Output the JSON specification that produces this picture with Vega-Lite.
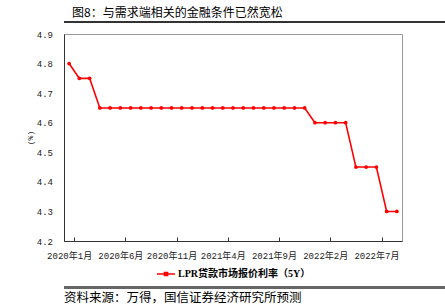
{
  "$schema": "https://vega.github.io/schema/vega-lite/v6.json",
  "padding": {"left": 25, "right": 15, "top": 7, "bottom": 0},
  "background": "white",
  "spacing": 6,
  "resolve": {"legend": {"color": "independent"}},
  "config": {
    "font": "Noto Sans CJK SC",
    "view": {"stroke": null},
    "title": {"font": "Noto Sans CJK SC", "fontSize": 12, "fontWeight": "normal", "color": "#000", "anchor": "start"},
    "legend": {"layout": {"bottom": {"anchor": "middle"}}}
  },
  "vconcat": [
    {
      "width": 405,
      "height": 2,
      "view": {"fill": "#333", "stroke": null},
      "title": {"text": "图8：与需求端相关的金融条件已然宽松", "offset": 1, "dx": 8},
      "data": {"values": [{}]},
      "mark": {"type": "point", "opacity": 0, "size": 0},
      "encoding": {}
    },
    {
      "width": 338,
      "height": 207,
      "view": {"stroke": "#999", "strokeWidth": 1},
      "data": {"values": [
        {"month": "2020年1月", "rate": 4.80, "series": "LPR贷款市场报价利率（5Y）"},
        {"month": "2020年2月", "rate": 4.75, "series": "LPR贷款市场报价利率（5Y）"},
        {"month": "2020年3月", "rate": 4.75, "series": "LPR贷款市场报价利率（5Y）"},
        {"month": "2020年4月", "rate": 4.65, "series": "LPR贷款市场报价利率（5Y）"},
        {"month": "2020年5月", "rate": 4.65, "series": "LPR贷款市场报价利率（5Y）"},
        {"month": "2020年6月", "rate": 4.65, "series": "LPR贷款市场报价利率（5Y）"},
        {"month": "2020年7月", "rate": 4.65, "series": "LPR贷款市场报价利率（5Y）"},
        {"month": "2020年8月", "rate": 4.65, "series": "LPR贷款市场报价利率（5Y）"},
        {"month": "2020年9月", "rate": 4.65, "series": "LPR贷款市场报价利率（5Y）"},
        {"month": "2020年10月", "rate": 4.65, "series": "LPR贷款市场报价利率（5Y）"},
        {"month": "2020年11月", "rate": 4.65, "series": "LPR贷款市场报价利率（5Y）"},
        {"month": "2020年12月", "rate": 4.65, "series": "LPR贷款市场报价利率（5Y）"},
        {"month": "2021年1月", "rate": 4.65, "series": "LPR贷款市场报价利率（5Y）"},
        {"month": "2021年2月", "rate": 4.65, "series": "LPR贷款市场报价利率（5Y）"},
        {"month": "2021年3月", "rate": 4.65, "series": "LPR贷款市场报价利率（5Y）"},
        {"month": "2021年4月", "rate": 4.65, "series": "LPR贷款市场报价利率（5Y）"},
        {"month": "2021年5月", "rate": 4.65, "series": "LPR贷款市场报价利率（5Y）"},
        {"month": "2021年6月", "rate": 4.65, "series": "LPR贷款市场报价利率（5Y）"},
        {"month": "2021年7月", "rate": 4.65, "series": "LPR贷款市场报价利率（5Y）"},
        {"month": "2021年8月", "rate": 4.65, "series": "LPR贷款市场报价利率（5Y）"},
        {"month": "2021年9月", "rate": 4.65, "series": "LPR贷款市场报价利率（5Y）"},
        {"month": "2021年10月", "rate": 4.65, "series": "LPR贷款市场报价利率（5Y）"},
        {"month": "2021年11月", "rate": 4.65, "series": "LPR贷款市场报价利率（5Y）"},
        {"month": "2021年12月", "rate": 4.65, "series": "LPR贷款市场报价利率（5Y）"},
        {"month": "2022年1月", "rate": 4.60, "series": "LPR贷款市场报价利率（5Y）"},
        {"month": "2022年2月", "rate": 4.60, "series": "LPR贷款市场报价利率（5Y）"},
        {"month": "2022年3月", "rate": 4.60, "series": "LPR贷款市场报价利率（5Y）"},
        {"month": "2022年4月", "rate": 4.60, "series": "LPR贷款市场报价利率（5Y）"},
        {"month": "2022年5月", "rate": 4.45, "series": "LPR贷款市场报价利率（5Y）"},
        {"month": "2022年6月", "rate": 4.45, "series": "LPR贷款市场报价利率（5Y）"},
        {"month": "2022年7月", "rate": 4.45, "series": "LPR贷款市场报价利率（5Y）"},
        {"month": "2022年8月", "rate": 4.30, "series": "LPR贷款市场报价利率（5Y）"},
        {"month": "2022年9月", "rate": 4.30, "series": "LPR贷款市场报价利率（5Y）"}
      ]},
      "encoding": {
        "x": {
          "field": "month", "type": "ordinal", "sort": null, "bandPosition": 0.5,
          "scale": {"type": "band", "paddingInner": 0, "paddingOuter": 0},
          "axis": {
            "title": null,
            "values": ["2020年1月", "2020年6月", "2020年11月", "2021年4月", "2021年9月", "2022年2月", "2022年7月"],
            "labelAngle": 0, "tickBand": "extent", "tickSize": -4, "labelPadding": 14,
            "domainColor": "#333", "tickColor": "#333",
            "labelFont": "Liberation Mono, Noto Sans CJK SC", "labelFontSize": 9, "labelColor": "#222"
          }
        },
        "y": {
          "field": "rate", "type": "quantitative",
          "scale": {"domain": [4.2, 4.9], "nice": false, "zero": false},
          "axis": {
            "title": "(%)", "titleFontSize": 8, "titleFontWeight": "normal", "titleFont": "Liberation Mono", "titleColor": "#222", "titlePadding": 2,
            "values": [4.2, 4.3, 4.4, 4.5, 4.6, 4.7, 4.8, 4.9], "format": ".1f",
            "ticks": false, "grid": false, "labelPadding": 11.5,
            "domainColor": "#333",
            "labelFont": "Liberation Mono", "labelFontSize": 9, "labelColor": "#222"
          }
        },
        "color": {
          "field": "series", "type": "nominal",
          "scale": {"range": ["#ff0000"]},
          "legend": {
            "title": null, "orient": "bottom", "direction": "horizontal", "offset": 4, "padding": 0,
            "symbolType": "M-1,0H1M-0.18,-0.18H0.18V0.18H-0.18Z", "symbolSize": 324,
            "symbolStrokeWidth": 1.5, "symbolStrokeColor": "#ff0000", "symbolFillColor": "#ff0000",
            "labelFont": "Liberation Serif, Noto Sans CJK SC", "labelFontWeight": "bold", "labelFontSize": 10, "labelColor": "#000", "labelOffset": 2
          }
        }
      },
      "layer": [
        {"mark": {"type": "line", "strokeWidth": 1.6}},
        {"mark": {"type": "point", "filled": true, "size": 14, "opacity": 1}}
      ]
    },
    {
      "width": 405,
      "height": 3,
      "view": {"fill": "#666", "stroke": null},
      "title": {"text": "资料来源：万得，国信证券经济研究所预测", "orient": "bottom", "offset": 3, "fontSize": 12.5},
      "data": {"values": [{}]},
      "mark": {"type": "point", "opacity": 0, "size": 0},
      "encoding": {}
    }
  ]
}
